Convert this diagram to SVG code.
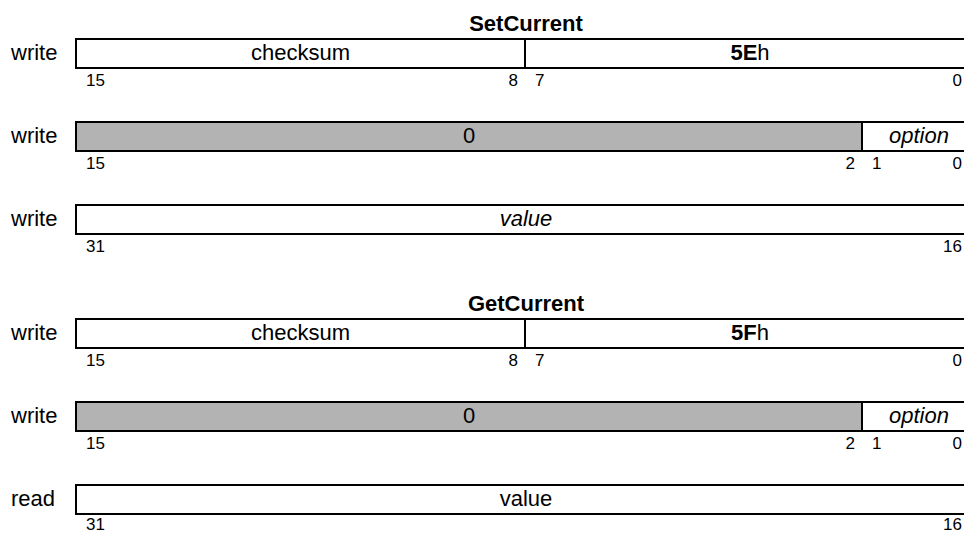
<svg xmlns="http://www.w3.org/2000/svg" width="964" height="533" viewBox="0 0 964 533">
<style>
text{font-family:"Liberation Sans",Arial,Helvetica,sans-serif;fill:#000}
.t{font-size:22px}
.c{text-anchor:middle}
.e{text-anchor:end}
.b{font-weight:bold}
.i{font-style:italic}
.n{font-size:17px}
.f{fill:#fff;stroke:#000;stroke-width:2}
.g{fill:#b3b3b3;stroke:#000;stroke-width:2}
.d{stroke:#000;stroke-width:2}
</style>
<rect width="964" height="533" fill="#fff"/>
<g id="setcurrent">
<text id="title1" class="t b c" x="526" y="31">SetCurrent</text>
<g id="s-row1">
<text class="t" x="11" y="60">write</text>
<rect class="f" x="76" y="39" width="900" height="29"/>
<line class="d" x1="525" y1="39" x2="525" y2="68"/>
<text class="t c" x="300.5" y="60">checksum</text>
<text class="t c" x="750" y="60"><tspan class="b">5E</tspan>h</text>
<text class="n" x="86" y="86">15</text>
<text class="n e" x="518" y="86">8</text>
<text class="n" x="535" y="86">7</text>
<text class="n e" x="962" y="86">0</text>
</g>
<g id="s-row2">
<text class="t" x="11" y="143">write</text>
<rect class="f" x="76" y="122" width="900" height="29"/>
<rect class="g" x="76" y="122" width="786" height="29"/>
<text class="t c" x="469" y="143">0</text>
<text class="t c i" x="919" y="143">option</text>
<text class="n" x="86" y="169">15</text>
<text class="n e" x="855" y="169">2</text>
<text class="n" x="872" y="169">1</text>
<text class="n e" x="962" y="169">0</text>
</g>
<g id="s-row3">
<text class="t" x="11" y="226">write</text>
<rect class="f" x="76" y="205" width="900" height="29"/>
<text class="t c i" x="526" y="226">value</text>
<text class="n" x="86" y="252">31</text>
<text class="n e" x="962" y="252">16</text>
</g>
</g>
<g id="getcurrent">
<text id="title2" class="t b c" x="526" y="311">GetCurrent</text>
<g id="g-row1">
<text class="t" x="11" y="340">write</text>
<rect class="f" x="76" y="319" width="900" height="29"/>
<line class="d" x1="525" y1="319" x2="525" y2="348"/>
<text class="t c" x="300.5" y="340">checksum</text>
<text class="t c" x="750" y="340"><tspan class="b">5F</tspan>h</text>
<text class="n" x="86" y="366">15</text>
<text class="n e" x="518" y="366">8</text>
<text class="n" x="535" y="366">7</text>
<text class="n e" x="962" y="366">0</text>
</g>
<g id="g-row2">
<text class="t" x="11" y="423">write</text>
<rect class="f" x="76" y="402" width="900" height="29"/>
<rect class="g" x="76" y="402" width="786" height="29"/>
<text class="t c" x="469" y="423">0</text>
<text class="t c i" x="919" y="423">option</text>
<text class="n" x="86" y="449">15</text>
<text class="n e" x="855" y="449">2</text>
<text class="n" x="872" y="449">1</text>
<text class="n e" x="962" y="449">0</text>
</g>
<g id="g-row3">
<text class="t" x="11" y="506">read</text>
<rect class="f" x="76" y="485" width="900" height="29"/>
<text class="t c" x="526" y="506">value</text>
<text class="n" x="86" y="530">31</text>
<text class="n e" x="962" y="530">16</text>
</g>
</g>
<g id="connectors"/>
</svg>
